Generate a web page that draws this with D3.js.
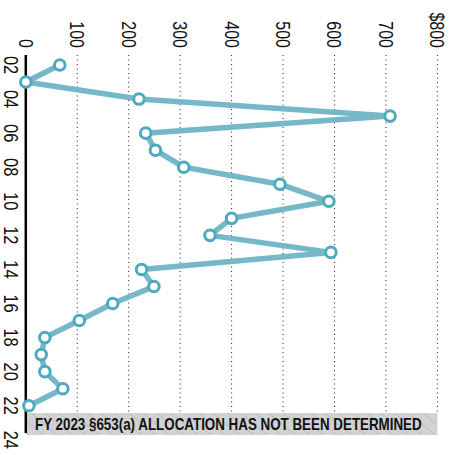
<!DOCTYPE html>
<html>
<head>
<meta charset="utf-8">
<script src="https://cdn.jsdelivr.net/npm/d3@7"></script>
<style>
  html, body { margin: 0; padding: 0; background: #fff; }
  svg { display: block; }
</style>
</head>
<body>
<svg id="chart" width="455" height="455"></svg>
<script>
// ---- data ----
const years = [2,3,4,5,6,7,8,9,10,11,12,13,14,15,16,17,18,19,20,21,22];
const values = [66, 0, 220, 708, 233, 252, 307, 494, 589, 400, 358, 593, 225, 249, 169, 104, 37, 30, 37, 72, 6];
const valueTicks = [0,100,200,300,400,500,600,700,800];
const valueTickLabels = ["0","100","200","300","400","500","600","700","$800"];
const yearTicks = [2,4,6,8,10,12,14,16,18,20,22,24];
const yearTickLabels = ["02","04","06","08","10","12","14","16","18","20","22","24"];
const noteText = "FY 2023 §653(a) ALLOCATION HAS NOT BEEN DETERMINED";
const noteYears = [22.43, 23.72];

const svg = d3.select("#chart");
const font = "'Liberation Sans', Arial, sans-serif";
const narrow = 0.82;

const x = d3.scaleLinear().domain([0, 800]).range([25.8, 437.4]);
const y = d3.scaleLinear().domain([2, 24]).range([65, 439.8]);

// hatch pattern
const defs = svg.append("defs");
const pat = defs.append("pattern")
  .attr("id", "hatch")
  .attr("patternUnits", "userSpaceOnUse")
  .attr("width", 9).attr("height", 9)
  .attr("patternTransform", "rotate(-50)");
pat.append("rect").attr("width", 9).attr("height", 9).attr("fill", "#d2d2d2");
pat.append("line").attr("x1", 0).attr("y1", 0).attr("x2", 0).attr("y2", 9)
  .attr("stroke", "#b4b4b4").attr("stroke-width", 1.2);

const gridTop = 55;
const gridBottom = y(noteYears[0]);

// gridlines (dotted)
svg.append("g").selectAll("line")
  .data(valueTicks.filter(d => d > 0))
  .join("line")
  .attr("x1", d => x(d)).attr("x2", d => x(d))
  .attr("y1", gridTop).attr("y2", gridBottom)
  .attr("stroke", "#222").attr("stroke-width", 1)
  .attr("stroke-dasharray", "1,3.5");

// value tick labels (rotated)
svg.append("g").selectAll("text")
  .data(valueTicks)
  .join("text")
  .attr("transform", d => `translate(${x(d)},48) rotate(90) scale(${narrow},1)`)
  .attr("text-anchor", "end")
  .attr("dy", "0.36em")
  .attr("font-family", font)
  .attr("font-size", 19.5)
  .attr("fill", "#111")
  .text((d, i) => valueTickLabels[i]);

// note band
svg.append("rect")
  .attr("x", x(0)).attr("y", y(noteYears[0]))
  .attr("width", x(800) - x(0))
  .attr("height", y(noteYears[1]) - y(noteYears[0]))
  .attr("fill", "url(#hatch)");

const noteY = (y(noteYears[0]) + y(noteYears[1])) / 2;
const note = svg.append("text")
  .attr("x", 0)
  .attr("y", 0)
  .attr("dy", "0.36em")
  .attr("font-family", font)
  .attr("font-weight", "bold")
  .attr("font-size", 16)
  .attr("fill", "#111")
  .text(noteText);
const natural = note.node().getComputedTextLength();
const sx = 387 / natural;
note.attr("transform", `translate(35,${noteY}) scale(${sx},1)`);

// axis line (zero)
svg.append("line")
  .attr("x1", x(0)).attr("x2", x(0))
  .attr("y1", 55).attr("y2", 433)
  .attr("stroke", "#000").attr("stroke-width", 2.5);

// year labels (rotated)
svg.append("g").selectAll("text")
  .data(yearTicks)
  .join("text")
  .attr("transform", d => `translate(4,${y(d)}) rotate(90) scale(${narrow},1)`)
  .attr("text-anchor", "middle")
  .attr("font-family", font)
  .attr("font-size", 20)
  .attr("fill", "#111")
  .text((d, i) => yearTickLabels[i]);

// line
const pts = years.map((yr, i) => ({yr, v: values[i]}));
svg.append("path")
  .datum(pts)
  .attr("fill", "none")
  .attr("stroke", "#76b8c8")
  .attr("stroke-width", 5.5)
  .attr("stroke-linejoin", "miter")
  .attr("stroke-miterlimit", 2)
  .attr("d", d3.line().x(d => x(d.v)).y(d => y(d.yr)));

svg.append("g").selectAll("circle")
  .data(pts)
  .join("circle")
  .attr("cx", d => x(d.v)).attr("cy", d => y(d.yr))
  .attr("r", 5.3)
  .attr("fill", "#fff")
  .attr("stroke", "#4eaabd")
  .attr("stroke-width", 3);
</script>
</body>
</html>
